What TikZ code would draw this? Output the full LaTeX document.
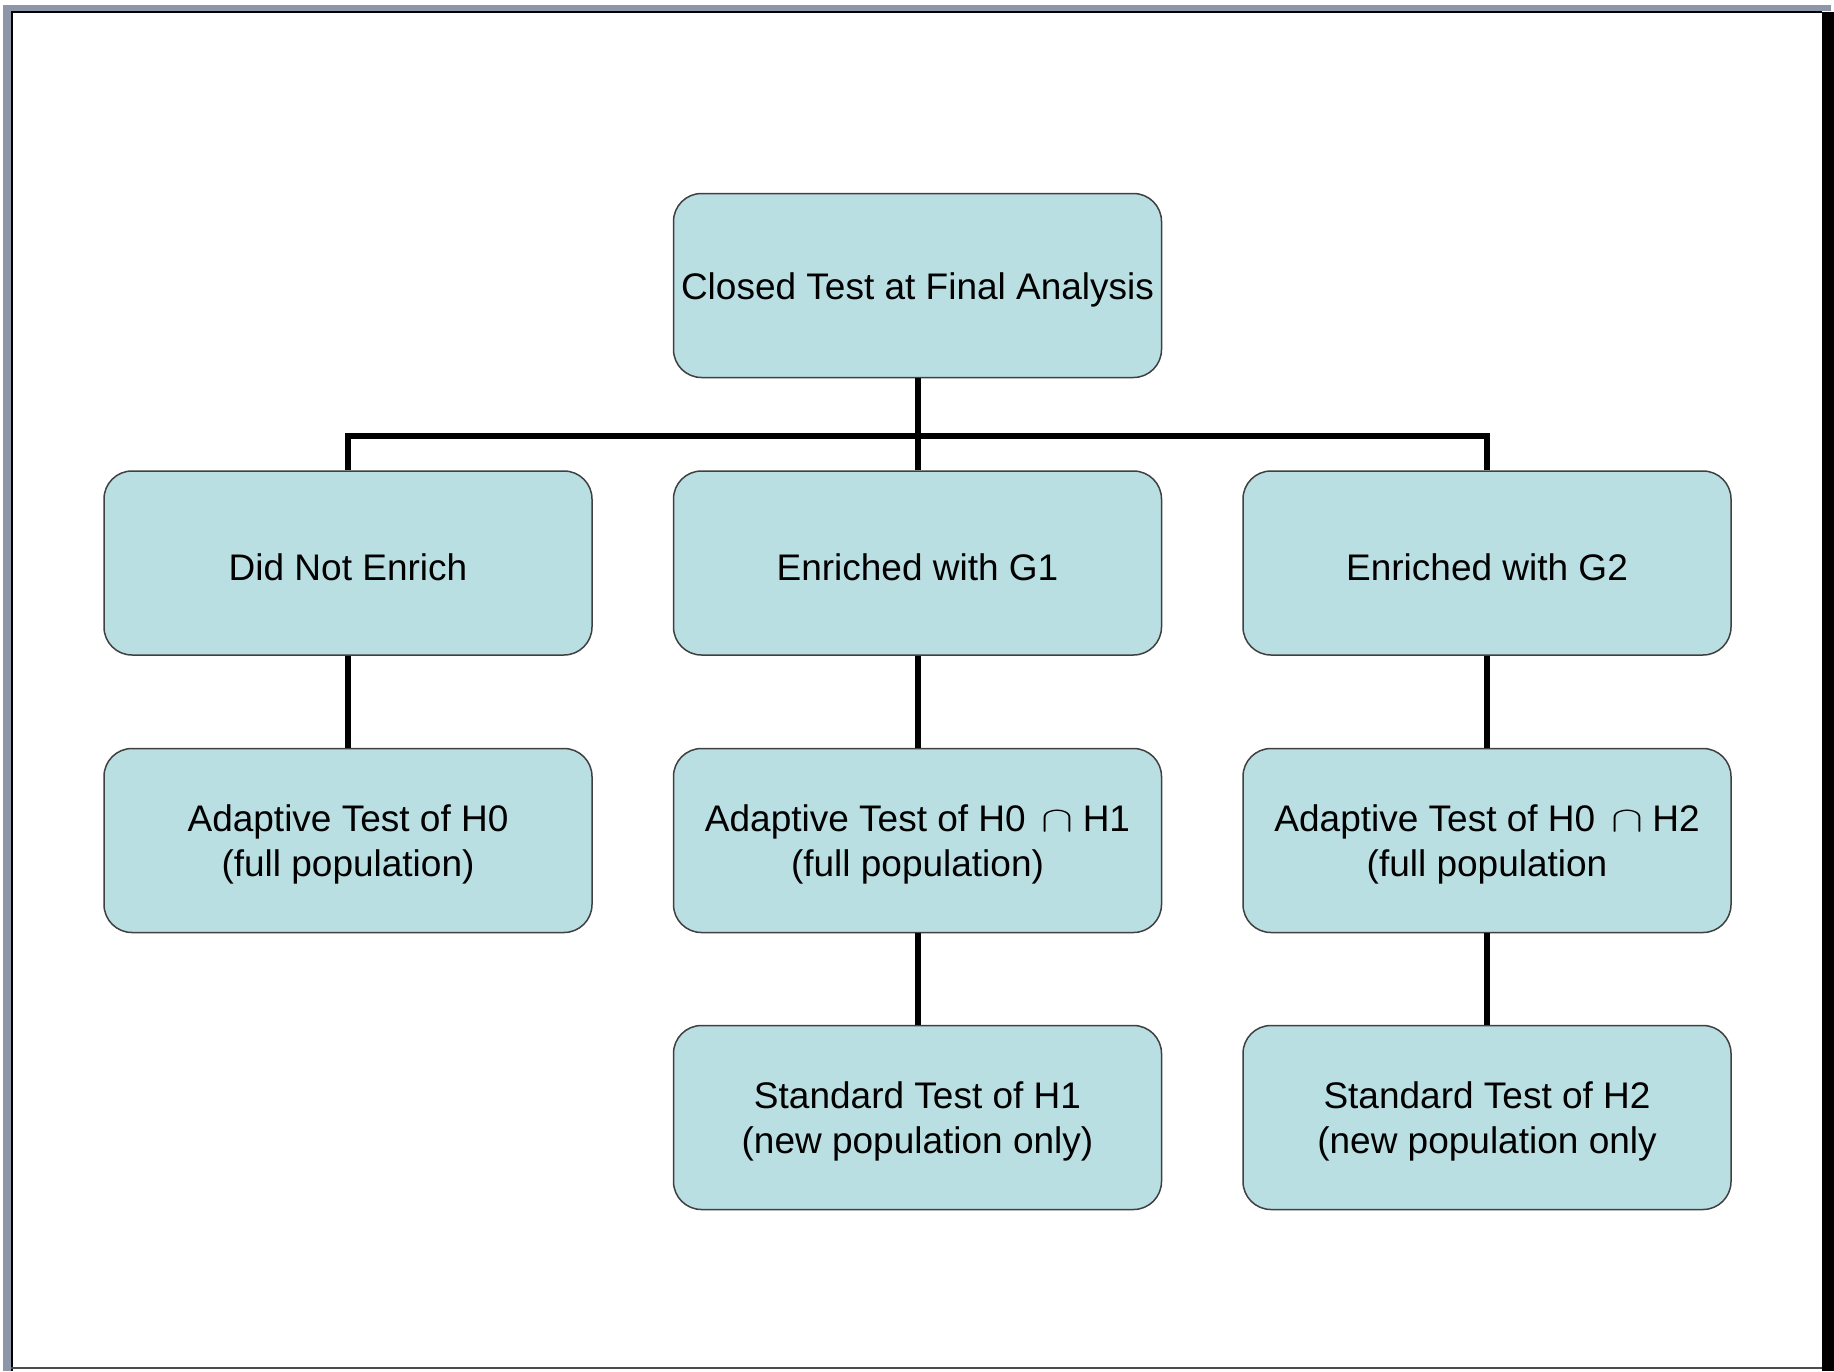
\documentclass[tikz,border=0pt]{standalone}
\usepackage{fontspec}
\usepackage{graphicx}
\setmainfont{Liberation Sans}
\definecolor{boxfill}{RGB}{186,223,227}
\definecolor{boxline}{RGB}{64,64,64}
\definecolor{framegray}{RGB}{142,150,170}
\newcommand{\capsym}{\hspace{16pt}\resizebox{32pt}{20pt}{$\cap$}\hspace{9pt}}
\begin{document}
\begin{tikzpicture}[x=1pt,y=-1pt,
  boxnode/.style={draw=boxline, line width=1.5pt, fill=boxfill, rounded corners=28pt,
    minimum width=488pt, minimum height=184pt, inner sep=0pt},
  txt/.style={inner sep=0pt, align=center, font=\fontsize{37}{45}\selectfont, yshift=-4pt},
  conn/.style={line width=6pt, draw=black, line join=miter}]
\useasboundingbox (0,0) rectangle (1834,1371);
\fill[white] (0,0) rectangle (1834,1371);
% page frame
\fill[framegray] (3,5) rectangle (1831,11);
\fill[framegray] (3,5) rectangle (11,1371);
\fill[black] (11,11) rectangle (1822,13);
\fill[black] (11,11) rectangle (13,1371);
\fill[black] (1822,12) rectangle (1834,1371);
\fill[black!70] (11,1367) rectangle (1822,1369);
% boxes
\node[boxnode] (top) at (917.5,285.5) {};
\node[boxnode] (l2) at (348,563) {};
\node[boxnode] (m2) at (917.5,563) {};
\node[boxnode] (r2) at (1487,563) {};
\node[boxnode] (l3) at (348,840.5) {};
\node[boxnode] (m3) at (917.5,840.5) {};
\node[boxnode] (r3) at (1487,840.5) {};
\node[boxnode] (m4) at (917.5,1117.5) {};
\node[boxnode] (r4) at (1487,1117.5) {};
% texts
\node[txt] (topt) at (top.center) {Closed Test at Final Analysis};
\node[txt] (l2t) at (l2.center) {Did Not Enrich};
\node[txt] (m2t) at (m2.center) {Enriched with G1};
\node[txt] (r2t) at (r2.center) {Enriched with G2};
\node[txt] (l3t) at (l3.center) {Adaptive Test of H0\\(full population)};
\node[txt] (m3t) at (m3.center) {Adaptive Test of H0\capsym{}H1\\(full population)};
\node[txt] (r3t) at (r3.center) {Adaptive Test of H0\capsym{}H2\\(full population};
\node[txt] (m4t) at (m4.center) {Standard Test of H1\\(new population only)};
\node[txt] (r4t) at (r4.center) {Standard Test of H2\\(new population only};
\coordinate (bus) at (917.5,436);
% connectors
\draw[conn] (top.south) -- (m2.north);
\draw[conn] (l2.north) |- (bus) -| (r2.north);
\draw[conn] (l2.south) -- (l3.north);
\draw[conn] (m2.south) -- (m3.north);
\draw[conn] (r2.south) -- (r3.north);
\draw[conn] (m3.south) -- (m4.north);
\draw[conn] (r3.south) -- (r4.north);
\end{tikzpicture}
\end{document}
